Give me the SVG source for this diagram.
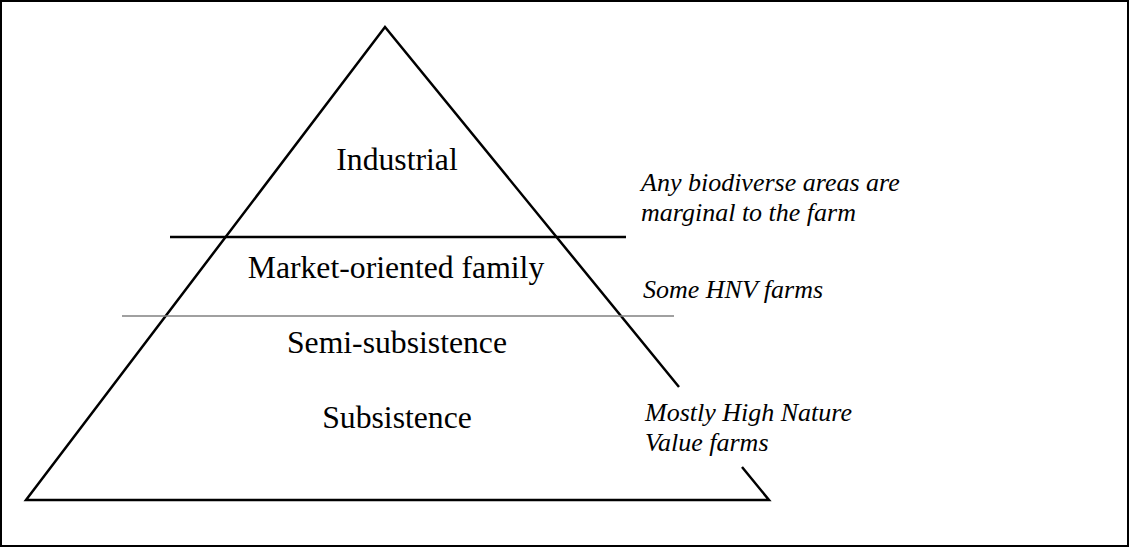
<svg xmlns="http://www.w3.org/2000/svg" width="1130" height="548" viewBox="0 0 1130 548">
<style>
.frame{fill:none;stroke:#000;stroke-width:2}
.edge{fill:none;stroke:#000;stroke-width:2.5;stroke-linecap:butt;stroke-linejoin:miter}
.thin{stroke:#808080;stroke-width:1.3}
.lvl{font-family:"Liberation Serif","Times New Roman",serif;font-size:31.7px;fill:#000;text-anchor:middle}
.note{font-family:"Liberation Serif","Times New Roman",serif;font-size:26px;font-style:italic;fill:#000}
</style>
<rect class="frame" x="1" y="1" width="1127" height="545"/>
<g id="connectors">
<path class="edge" d="M679,387 L385,27 L26,500 L769,500 L742,467"/>
<line class="edge" x1="170" y1="237" x2="626" y2="237"/>
<line class="thin" x1="122" y1="316" x2="674" y2="316"/>
</g>
<g id="industrial"><text class="lvl" x="397" y="170">Industrial</text></g>
<g id="market"><text class="lvl" x="396" y="278">Market-oriented family</text></g>
<g id="semi"><text class="lvl" x="397" y="353">Semi-subsistence</text></g>
<g id="subsistence"><text class="lvl" x="397" y="428">Subsistence</text></g>
<g id="note1"><text class="note" x="641" y="191">Any biodiverse areas are</text><text class="note" x="641" y="221">marginal to the farm</text></g>
<g id="note2"><text class="note" x="643" y="298">Some HNV farms</text></g>
<g id="note3"><text class="note" x="645" y="421">Mostly High Nature</text><text class="note" x="645" y="451">Value farms</text></g>
</svg>
